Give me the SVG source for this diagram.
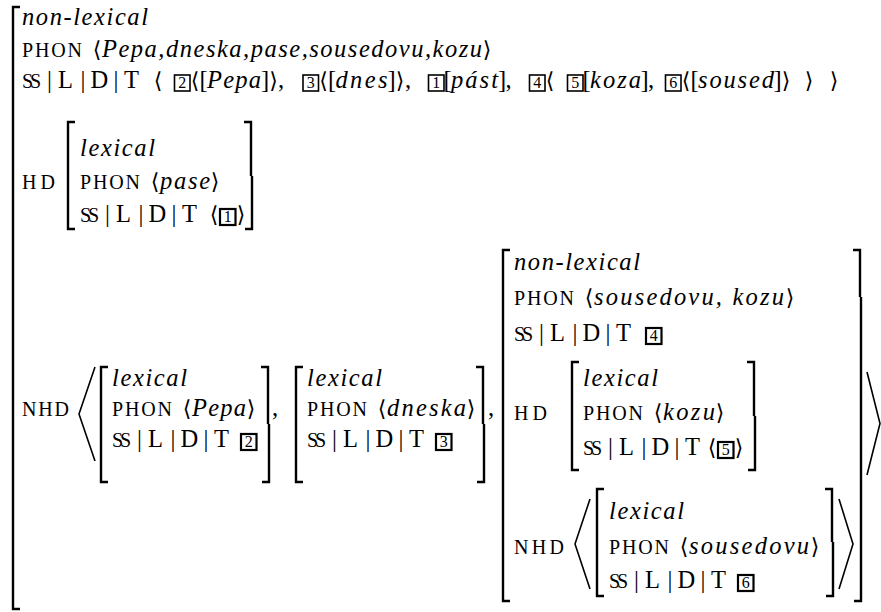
<svg xmlns="http://www.w3.org/2000/svg" width="881" height="612" viewBox="0 0 881 612" font-family="'Liberation Serif', serif">
<style>
text{fill:#000}
.it{font-family:"Liberation Serif",serif;font-style:italic;font-size:24.5px}
.rm{font-family:"Liberation Serif",serif;font-size:24.5px}
.sc{font-family:"Liberation Serif",serif;font-size:20px}
.ang{font-family:"DejaVu Sans","DejaVu Serif",sans-serif;font-size:22px;text-anchor:middle}
.c{text-anchor:middle}
.num{font-family:"Liberation Serif",serif;font-size:16px;text-anchor:middle}
.box{fill:none;stroke:#000;stroke-width:1.6}
.bx2{fill:none;stroke:#000;stroke-width:2.2}
.br{fill:none;stroke:#000;stroke-width:2.4}
.ag{fill:none;stroke:#000;stroke-width:1.6}
</style>
<rect width="881" height="612" fill="#fff"/>

<!-- outer bracket -->
<path class="br" d="M20 7H13V609H20"/>

<!-- top rows -->
<g id="top">
<text class="it" x="22" y="25" textLength="126">non-lexical</text>
<text class="sc" x="22" y="57" textLength="60">PHON</text>
<text class="ang" x="97" y="57">⟨</text>
<text class="it" x="102" y="57" textLength="380">Pepa,dneska,pase,sousedovu,kozu</text>
<text class="ang" x="487" y="57">⟩</text>
</g>

<!-- row 3 -->
<g id="row3">
<text class="sc" x="22" y="88" textLength="19">SS</text>
<text class="rm c" x="49.5" y="88">|</text>
<text class="rm" x="58" y="88">L</text>
<text class="rm c" x="83" y="88">|</text>
<text class="rm" x="90.5" y="88">D</text>
<text class="rm c" x="116" y="88">|</text>
<text class="rm" x="124" y="88">T</text>
<text class="ang" x="158" y="88">⟨</text>
<rect class="box" x="174.5" y="75" width="15.5" height="16"/><text class="num" x="182.3" y="88">2</text>
<text class="ang" x="195" y="88">⟨</text>
<text class="rm c" x="203.5" y="88">[</text>
<text class="it" x="207" y="88" textLength="54">Pepa</text>
<text class="rm c" x="265" y="88">]</text>
<text class="ang" x="273.5" y="88">⟩</text>
<text class="rm" x="278" y="88">,</text>
<rect class="box" x="303" y="75" width="15.5" height="16"/><text class="num" x="310.8" y="88">3</text>
<text class="ang" x="323.6" y="88">⟨</text>
<text class="rm c" x="332" y="88">[</text>
<text class="it" x="335.5" y="88" textLength="52">dnes</text>
<text class="rm c" x="391.5" y="88">]</text>
<text class="ang" x="400" y="88">⟩</text>
<text class="rm" x="405" y="88">,</text>
<rect class="box" x="428.5" y="75" width="15.5" height="16"/><text class="num" x="436.3" y="88">1</text>
<text class="rm c" x="447.5" y="88">[</text>
<text class="it" x="451" y="88" textLength="47">pást</text>
<text class="rm c" x="502" y="88">]</text>
<text class="rm" x="505.5" y="88">,</text>
<rect class="box" x="529.5" y="75" width="15.5" height="16"/><text class="num" x="537.3" y="88">4</text>
<text class="ang" x="550" y="88">⟨</text>
<rect class="box" x="567.5" y="75" width="15.5" height="16"/><text class="num" x="575.3" y="88">5</text>
<text class="rm c" x="586.5" y="88">[</text>
<text class="it" x="590" y="88" textLength="51">koza</text>
<text class="rm c" x="644.5" y="88">]</text>
<text class="rm" x="648" y="88">,</text>
<rect class="box" x="665.5" y="75" width="15.5" height="16"/><text class="num" x="673.3" y="88">6</text>
<text class="ang" x="686" y="88">⟨</text>
<text class="rm c" x="694.5" y="88">[</text>
<text class="it" x="698" y="88" textLength="76">soused</text>
<text class="rm c" x="777.5" y="88">]</text>
<text class="ang" x="786" y="88">⟩</text>
<text class="ang" x="809" y="88">⟩</text>
<text class="ang" x="834" y="88">⟩</text>
</g>

<!-- HD block -->
<g id="hd">
<text class="sc" x="22" y="189" textLength="33">HD</text>
<path class="br" d="M75 122H68V229H75"/>
<path class="br" d="M244 122H251V176M252 176V229H245"/>
<text class="it" x="80" y="156" textLength="75">lexical</text>
<text class="sc" x="80" y="189" textLength="60">PHON</text>
<text class="ang" x="155" y="189">⟨</text>
<text class="it" x="160" y="189" textLength="50">pase</text>
<text class="ang" x="215" y="189">⟩</text>
<text class="sc" x="80" y="222" textLength="19">SS</text>
<text class="rm c" x="107.5" y="222">|</text>
<text class="rm" x="116" y="222">L</text>
<text class="rm c" x="141" y="222">|</text>
<text class="rm" x="148.5" y="222">D</text>
<text class="rm c" x="174" y="222">|</text>
<text class="rm" x="182" y="222">T</text>
<text class="ang" x="214" y="222">⟨</text>
<rect class="bx2" x="220" y="209" width="15.5" height="16"/><text class="num" x="227.8" y="222">1</text>
<text class="ang" x="241" y="222">⟩</text>
</g>

<!-- NHD outer -->
<g id="nhd">
<text class="sc" x="22" y="416" textLength="47">NHD</text>
<polyline class="ag" points="95,367 79,414 95,461"/>
<polyline class="ag" points="867,372 880,423.5 867,475"/>
</g>

<!-- item 1 -->
<g id="item1">
<path class="br" d="M108 367H101V482H108"/>
<path class="br" d="M261 367H268V424M269 424V482H262"/>
<text class="it" x="112" y="386" textLength="75">lexical</text>
<text class="sc" x="112" y="416" textLength="60">PHON</text>
<text class="ang" x="187" y="416">⟨</text>
<text class="it" x="192" y="416" textLength="54">Pepa</text>
<text class="ang" x="251" y="416">⟩</text>
<text class="sc" x="112" y="447" textLength="19">SS</text>
<text class="rm c" x="139.5" y="447">|</text>
<text class="rm" x="148" y="447">L</text>
<text class="rm c" x="173" y="447">|</text>
<text class="rm" x="180.5" y="447">D</text>
<text class="rm c" x="206" y="447">|</text>
<text class="rm" x="214" y="447">T</text>
<rect class="bx2" x="241" y="434" width="15.5" height="16"/><text class="num" x="248.8" y="447">2</text>
<text class="rm" x="272" y="416">,</text>
</g>

<!-- item 2 -->
<g id="item2">
<path class="br" d="M303 367H296V482H303"/>
<path class="br" d="M476 367H483V424M484 424V482H477"/>
<text class="it" x="307" y="386" textLength="75">lexical</text>
<text class="sc" x="307" y="416" textLength="60">PHON</text>
<text class="ang" x="382" y="416">⟨</text>
<text class="it" x="387" y="416" textLength="79">dneska</text>
<text class="ang" x="471" y="416">⟩</text>
<text class="sc" x="307" y="447" textLength="19">SS</text>
<text class="rm c" x="334.5" y="447">|</text>
<text class="rm" x="343" y="447">L</text>
<text class="rm c" x="368" y="447">|</text>
<text class="rm" x="375.5" y="447">D</text>
<text class="rm c" x="401" y="447">|</text>
<text class="rm" x="409" y="447">T</text>
<rect class="bx2" x="436" y="434" width="15.5" height="16"/><text class="num" x="443.8" y="447">3</text>
<text class="rm" x="488" y="416">,</text>
</g>

<!-- item 3 -->
<g id="item3">
<path class="br" d="M510 250H503V601H510"/>
<path class="br" d="M853 250H860V297M861 297V601H854"/>
<text class="it" x="514" y="270" textLength="126">non-lexical</text>
<text class="sc" x="514" y="305" textLength="60">PHON</text>
<text class="ang" x="589" y="305">⟨</text>
<text class="it" x="594" y="305" textLength="190">sousedovu, kozu</text>
<text class="ang" x="790" y="305">⟩</text>
<text class="sc" x="514" y="341" textLength="19">SS</text>
<text class="rm c" x="541.5" y="341">|</text>
<text class="rm" x="550" y="341">L</text>
<text class="rm c" x="575" y="341">|</text>
<text class="rm" x="582.5" y="341">D</text>
<text class="rm c" x="608" y="341">|</text>
<text class="rm" x="616" y="341">T</text>
<rect class="bx2" x="646" y="328" width="15.5" height="16"/><text class="num" x="653.8" y="341">4</text>

<text class="sc" x="514" y="420" textLength="33">HD</text>
<path class="br" d="M579 362H572V470H579"/>
<path class="br" d="M747 362H754V416M755 416V470H748"/>
<text class="it" x="583" y="386" textLength="75">lexical</text>
<text class="sc" x="583" y="420" textLength="60">PHON</text>
<text class="ang" x="658" y="420">⟨</text>
<text class="it" x="663" y="420" textLength="52">kozu</text>
<text class="ang" x="720" y="420">⟩</text>
<text class="sc" x="583" y="455" textLength="19">SS</text>
<text class="rm c" x="610.5" y="455">|</text>
<text class="rm" x="619" y="455">L</text>
<text class="rm c" x="644" y="455">|</text>
<text class="rm" x="651.5" y="455">D</text>
<text class="rm c" x="677" y="455">|</text>
<text class="rm" x="685" y="455">T</text>
<text class="ang" x="712" y="455">⟨</text>
<rect class="bx2" x="718" y="442" width="15.5" height="16"/><text class="num" x="725.8" y="455">5</text>
<text class="ang" x="739" y="455">⟩</text>

<text class="sc" x="514" y="554" textLength="50">NHD</text>
<polyline class="ag" points="590,499 575,544 590,589"/>
<path class="br" d="M604 489H597V596H604"/>
<path class="br" d="M825 489H832V542M833 542V596H826"/>
<polyline class="ag" points="839,499 853,544 839,589"/>
<text class="it" x="609" y="519" textLength="75">lexical</text>
<text class="sc" x="609" y="554" textLength="60">PHON</text>
<text class="ang" x="684" y="554">⟨</text>
<text class="it" x="689" y="554" textLength="120">sousedovu</text>
<text class="ang" x="815" y="554">⟩</text>
<text class="sc" x="609" y="588" textLength="19">SS</text>
<text class="rm c" x="636.5" y="588">|</text>
<text class="rm" x="645" y="588">L</text>
<text class="rm c" x="670" y="588">|</text>
<text class="rm" x="677.5" y="588">D</text>
<text class="rm c" x="703" y="588">|</text>
<text class="rm" x="711" y="588">T</text>
<rect class="bx2" x="738" y="575" width="15.5" height="16"/><text class="num" x="745.8" y="588">6</text>
</g>
</svg>
